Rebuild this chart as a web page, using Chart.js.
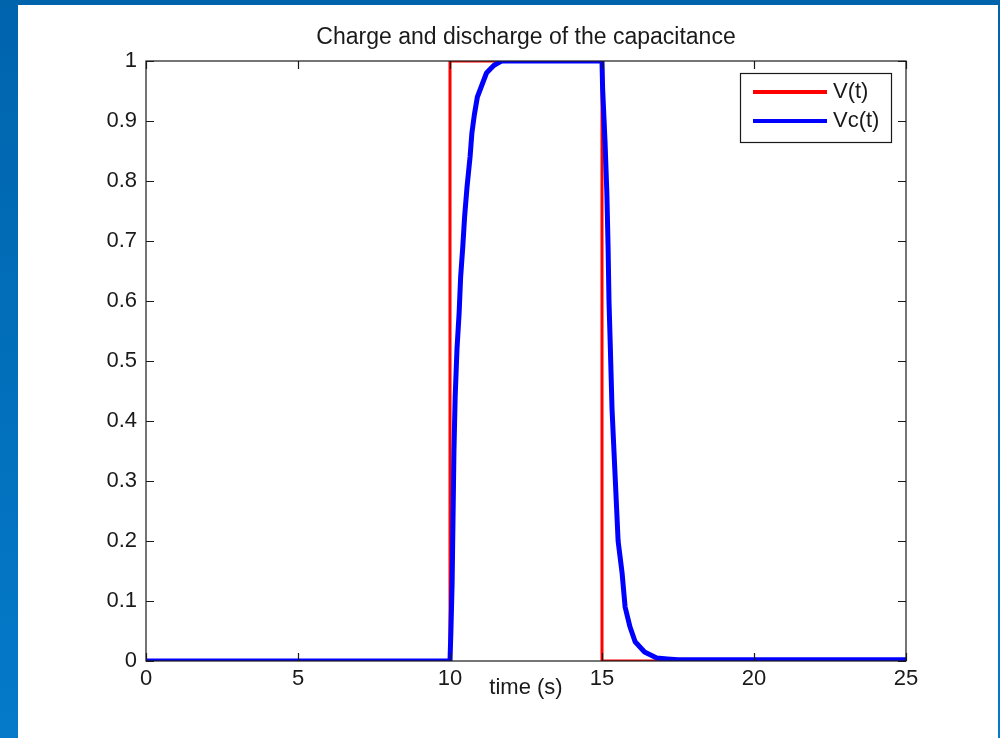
<!DOCTYPE html>
<html>
<head>
<meta charset="utf-8">
<script src="https://cdn.jsdelivr.net/npm/chart.js@4"></script>
<style>
  html, body { margin: 0; padding: 0; }
  body { width: 1000px; height: 738px; overflow: hidden; }
  #wrap { position: relative; width: 1000px; height: 738px; }
</style>
</head>
<body>
<div id="wrap"><canvas id="chart" width="1000" height="738"></canvas></div>
<script>
// source voltage (square pulse)
const tSource = [0, 10, 10, 15, 15, 25];
const vSource = [0, 0, 1, 1, 0, 0];

// capacitor voltage
const tCap = [0, 10, 10.03, 10.07, 10.1, 10.13, 10.17, 10.23, 10.3, 10.35, 10.42, 10.48, 10.56, 10.66,
  10.72, 10.8, 10.9, 11.05, 11.2, 11.45, 11.7, 15,
  15.02, 15.1, 15.16, 15.2, 15.23, 15.27, 15.33, 15.43, 15.53, 15.66, 15.76, 15.92, 16.09, 16.4, 16.8, 17.5, 25];
const vCap = [0, 0, 0.05, 0.13, 0.24, 0.35, 0.44, 0.52, 0.58, 0.64, 0.69, 0.74, 0.79, 0.84,
  0.88, 0.91, 0.94, 0.96, 0.98, 0.993, 1, 1,
  0.955, 0.865, 0.78, 0.69, 0.6, 0.53, 0.42, 0.31, 0.2, 0.147, 0.09, 0.057, 0.032, 0.015, 0.005, 0.002, 0.002];

const seriesNames = ['V(t)', 'Vc(t)'];
const seriesColors = ['#ff0000', '#0000ff'];

const xTicks = [0, 5, 10, 15, 20, 25];
const yTicks = [0, 0.1, 0.2, 0.3, 0.4, 0.5, 0.6, 0.7, 0.8, 0.9, 1];
const yTickLabels = ['0', '0.1', '0.2', '0.3', '0.4', '0.5', '0.6', '0.7', '0.8', '0.9', '1'];

const FONT = '"Liberation Sans", Arial, Helvetica, sans-serif';
const INK = '#1a1a1a';

// blue slide background with the white panel
const bgPlugin = {
  id: 'slideBg',
  beforeDraw(chart) {
    const { ctx, width, height } = chart;
    ctx.save();
    const g = ctx.createLinearGradient(0, 0, 0, height);
    g.addColorStop(0, '#0064ad');
    g.addColorStop(1, '#047ac9');
    ctx.fillStyle = g;
    ctx.fillRect(0, 0, width, height);
    ctx.fillStyle = '#ffffff';
    ctx.fillRect(18, 5, 980, height - 5);
    ctx.restore();
  }
};

// matlab style box with inward ticks on all four sides
const boxPlugin = {
  id: 'axesBox',
  afterDatasetsDraw(chart) {
    const { ctx, chartArea: a, scales } = chart;
    const len = 8;
    ctx.save();
    ctx.strokeStyle = INK;
    ctx.lineWidth = 1.2;
    ctx.beginPath();
    xTicks.forEach(v => {
      const x = Math.round(scales.x.getPixelForValue(v)) + 0.5;
      ctx.moveTo(x, a.bottom); ctx.lineTo(x, a.bottom - len);
      ctx.moveTo(x, a.top); ctx.lineTo(x, a.top + len);
    });
    yTicks.forEach(v => {
      const y = Math.round(scales.y.getPixelForValue(v)) + 0.5;
      ctx.moveTo(a.left, y); ctx.lineTo(a.left + len, y);
      ctx.moveTo(a.right, y); ctx.lineTo(a.right - len, y);
    });
    ctx.stroke();
    ctx.strokeRect(a.left, a.top, a.right - a.left, a.bottom - a.top);
    ctx.restore();
  }
};

const legendPlugin = {
  id: 'boxLegend',
  afterDraw(chart) {
    const { ctx, chartArea: a } = chart;
    const w = 151, h = 69;
    const x0 = a.right - 15 - w, y0 = a.top + 12;
    ctx.save();
    ctx.fillStyle = '#ffffff';
    ctx.fillRect(x0, y0, w, h);
    ctx.strokeStyle = INK;
    ctx.lineWidth = 1.2;
    ctx.strokeRect(x0 + 0.5, y0 + 0.5, w, h);
    ctx.font = '22px ' + FONT;
    ctx.textBaseline = 'middle';
    ctx.fillStyle = INK;
    chart.data.datasets.slice().sort((p, q) => p.legendIndex - q.legendIndex).forEach((ds, i) => {
      const y = y0 + 19 + i * 29;
      ctx.strokeStyle = ds.borderColor;
      ctx.lineWidth = 4;
      ctx.beginPath();
      ctx.moveTo(x0 + 13, y);
      ctx.lineTo(x0 + 87, y);
      ctx.stroke();
      ctx.fillText(ds.label, x0 + 93, y);
    });
    ctx.restore();
  }
};

new Chart(document.getElementById('chart'), {
  type: 'scatter',
  plugins: [bgPlugin, boxPlugin, legendPlugin],
  data: {
    datasets: [
      {
        label: seriesNames[0],
        legendIndex: 0,
        data: tSource.map((t, i) => ({ x: t, y: vSource[i] })),
        showLine: true,
        borderColor: seriesColors[0],
        backgroundColor: seriesColors[0],
        borderWidth: 3,
        borderJoinStyle: 'round',
        tension: 0.000001, // tiny tension keeps chart.js off its fast path (it merges same-x points)
        pointRadius: 0,
        order: 2,
      },
      {
        label: seriesNames[1],
        legendIndex: 1,
        data: tCap.map((t, i) => ({ x: t, y: vCap[i] })),
        showLine: true,
        borderColor: seriesColors[1],
        backgroundColor: seriesColors[1],
        borderWidth: 5,
        borderJoinStyle: 'round',
        tension: 0.000001,
        pointRadius: 0,
        order: 1,
      }
    ]
  },
  options: {
    responsive: false,
    animation: false,
    devicePixelRatio: 1,
    layout: { padding: { left: 0, right: 94, top: 0, bottom: 0 } },
    scales: {
      x: {
        type: 'linear',
        min: 0, max: 25,
        grid: { display: false, drawTicks: false },
        border: { display: false },
        afterBuildTicks: s => { s.ticks = xTicks.map(v => ({ value: v })); },
        afterFit: s => { s.height = 77; },
        ticks: { color: INK, font: { family: FONT, size: 22 }, padding: 5, maxRotation: 0 },
        title: { display: true, text: 'time (s)', color: INK, font: { family: FONT, size: 22 }, padding: { top: 0, bottom: 37 } },
      },
      y: {
        type: 'linear',
        min: 0, max: 1,
        grid: { display: false, drawTicks: false },
        border: { display: false },
        afterBuildTicks: s => { s.ticks = yTicks.map(v => ({ value: v })); },
        afterFit: s => { s.width = 146; },
        ticks: {
          color: INK, font: { family: FONT, size: 22 }, padding: 9,
          callback: (v, i) => yTickLabels[i],
        },
      }
    },
    plugins: {
      legend: { display: false },
      tooltip: { enabled: false },
      title: {
        display: true,
        fullSize: false,
        text: 'Charge and discharge of the capacitance',
        color: INK,
        font: { family: FONT, size: 23, weight: 'normal' },
        padding: { top: 23.5, bottom: 9.9 },
      }
    }
  }
});
</script>
</body>
</html>
